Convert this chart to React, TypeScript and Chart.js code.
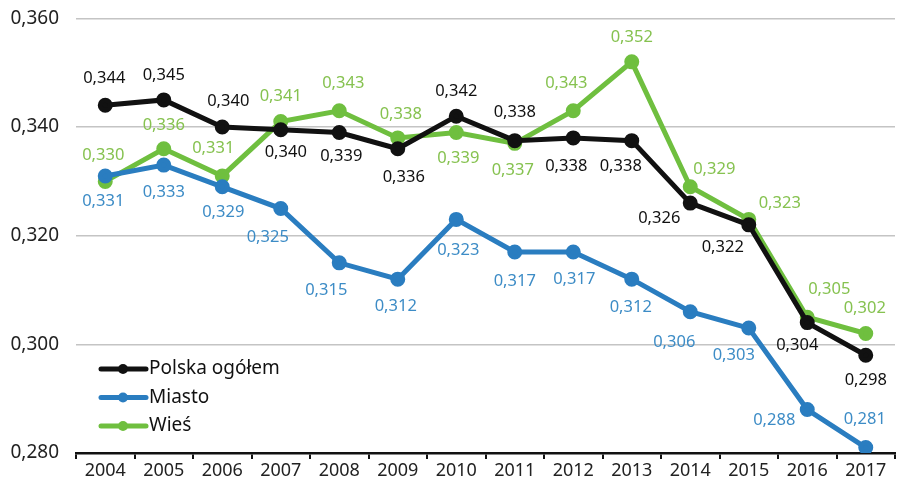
import React, { useEffect, useRef } from "react";
import { Chart, registerables } from "chart.js";

Chart.register(...registerables);

const years = ["2004","2005","2006","2007","2008","2009","2010","2011","2012","2013","2014","2015","2016","2017"];
const polska = [0.344,0.345,0.340,0.3395,0.339,0.336,0.342,0.3375,0.338,0.3375,0.326,0.322,0.304,0.298];
const miasto = [0.331,0.333,0.329,0.325,0.315,0.312,0.323,0.317,0.317,0.312,0.306,0.303,0.288,0.281];
const wies = [0.330,0.336,0.331,0.341,0.343,0.338,0.339,0.337,0.343,0.352,0.329,0.323,0.305,0.302];
const polskaLabels = ["0,344","0,345","0,340","0,340","0,339","0,336","0,342","0,338","0,338","0,338","0,326","0,322","0,304","0,298"];
const miastoLabels = ["0,331","0,333","0,329","0,325","0,315","0,312","0,323","0,317","0,317","0,312","0,306","0,303","0,288","0,281"];
const wiesLabels = ["0,330","0,336","0,331","0,341","0,343","0,338","0,339","0,337","0,343","0,352","0,329","0,323","0,305","0,302"];
const yTicks = [0.28, 0.30, 0.32, 0.34, 0.36];

// label offsets (style): [dx, dy] relative to point
const polskaOff = [[-1,-27],[0,-25],[6,-26],[5,23],[2,24],[6,29],[0,-25],[0,-28],[-7,28],[-11,26],[-31,15],[-26,22],[-10,23],[0,25]];
const miastoOff = [[-2,25],[0,27],[1,25],[-13,29],[-13,27],[-2,27],[2,31],[0,29],[1,27],[-1,28],[-16,31],[-15,27],[-33,11],[-1,-28]];
const wiesOff = [[-2,-26],[0,-23],[-9,-28],[0,-25],[4,-27],[3,-24],[2,26],[-2,27],[-7,-27],[0,-25],[24,-18],[31,-16],[22,-28],[-1,-25]];

const FONT = "'Noto Sans', sans-serif";
const BLACK = "#111111";
const BLUE = "#2a7dc0";
const GREEN = "#6fbf3f";
const BLUE_TXT = "#3d8cc6";
const GREEN_TXT = "#86c250";
const SHIFT = 10;

const labelsPlugin = {
  id: "pointLabels",
  afterDatasetsDraw(chart: any) {
    const ctx = chart.ctx;
    const sets = [
      { i: 0, labels: polskaLabels, off: polskaOff, color: BLACK },
      { i: 1, labels: miastoLabels, off: miastoOff, color: BLUE_TXT },
      { i: 2, labels: wiesLabels, off: wiesOff, color: GREEN_TXT },
    ];
    ctx.save();
    ctx.font = `16.5px ${FONT}`;
    ctx.textAlign = "center";
    ctx.textBaseline = "middle";
    for (const s of sets) {
      const meta = chart.getDatasetMeta(s.i);
      ctx.fillStyle = s.color;
      meta.data.forEach((pt: any, j: number) => {
        ctx.fillText(s.labels[j], pt.x + s.off[j][0], pt.y + s.off[j][1]);
      });
    }
    ctx.restore();
  },
};

const legendPlugin = {
  id: "customLegend",
  afterDraw(chart: any) {
    const ctx = chart.ctx;
    ctx.save();
    ctx.font = `19px ${FONT}`;
    ctx.textBaseline = "middle";
    ctx.textAlign = "left";
    chart.data.datasets.forEach((ds: any, i: number) => {
      const y = SHIFT + 369 + i * 28.5;
      ctx.strokeStyle = ds.borderColor;
      ctx.lineWidth = 5;
      ctx.lineCap = "round";
      ctx.beginPath();
      ctx.moveTo(101, y);
      ctx.lineTo(146, y);
      ctx.stroke();
      ctx.fillStyle = ds.borderColor;
      ctx.beginPath();
      ctx.arc(123, y, 5, 0, Math.PI * 2);
      ctx.fill();
      ctx.fillStyle = "#111";
      ctx.fillText(ds.label, 149, y);
    });
    ctx.restore();
  },
};

export default function App() {
  const ref = useRef<HTMLCanvasElement>(null);
  useEffect(() => {
    if (!ref.current) return;
    const mk = (label: string, data: number[], color: string) => ({
      label,
      data,
      borderColor: color,
      backgroundColor: color,
      borderWidth: 5,
      pointRadius: 5,
      pointHoverRadius: 5,
      pointBackgroundColor: color,
      pointBorderColor: color,
      tension: 0,
    });
    const chart = new Chart(ref.current, {
      type: "line",
      data: {
        labels: years,
        datasets: [
          mk("Polska ogółem", polska, BLACK),
          mk("Miasto", miasto, BLUE),
          mk("Wieś", wies, GREEN),
        ],
      },
      options: {
        animation: false,
        responsive: false,
        maintainAspectRatio: false,
        layout: { padding: { top: 7, right: 1, left: 0, bottom: 0 } },
        plugins: { legend: { display: false }, tooltip: { enabled: false } },
        scales: {
          x: {
            offset: true,
            grid: { display: true, drawOnChartArea: false, drawTicks: true, tickLength: 6, color: BLACK, lineWidth: 2, offset: true },
            border: { display: true, color: BLACK, width: 2.5 },
            ticks: { color: "#222", font: { family: FONT, size: 18 }, padding: 1, maxRotation: 0, autoSkip: false },
            afterFit: (s: any) => { s.height = 34; },
          },
          y: {
            min: 0.28,
            max: 0.36,
            afterBuildTicks: (s: any) => { s.ticks = yTicks.map((v) => ({ value: v })); },
            grid: { color: "#c4c4c4", lineWidth: 1.5, drawTicks: false },
            border: { display: false },
            ticks: {
              color: "#222",
              font: { family: FONT, size: 19 },
              padding: 17,
              callback: (v: any) => Number(v).toFixed(3).replace(".", ","),
            },
            afterFit: (s: any) => { s.width = 76; },
          },
        },
      },
      plugins: [labelsPlugin, legendPlugin],
    });
    return () => chart.destroy();
  }, []);
  return (
    <div style={{ position: "fixed", left: 0, top: 0, width: 897, height: 487, overflow: "hidden", background: "#fff" }}>
      <canvas ref={ref} width={905} height={487 + SHIFT} style={{ display: "block", marginTop: -SHIFT }} />
    </div>
  );
}
